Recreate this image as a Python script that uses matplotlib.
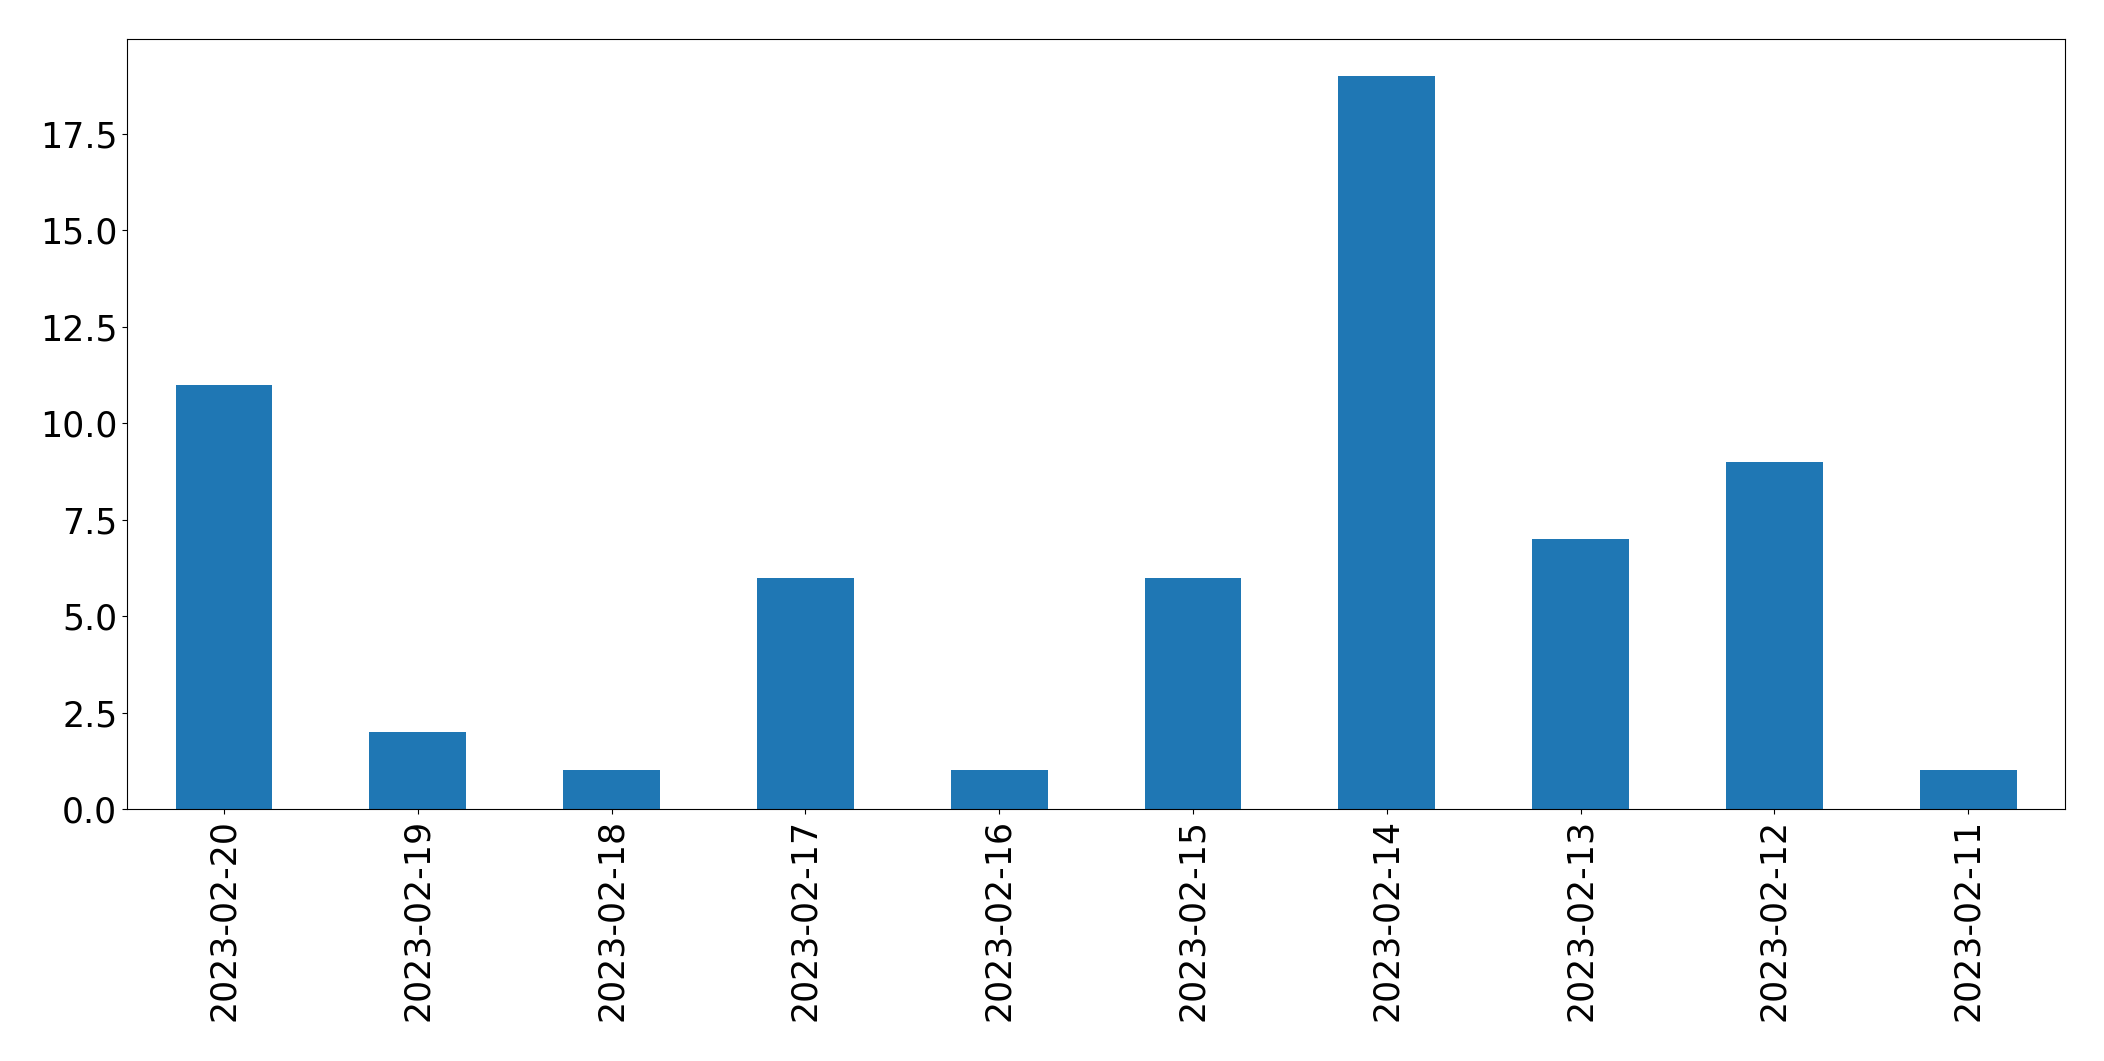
import matplotlib
matplotlib.use("Agg")
import matplotlib.pyplot as plt
import numpy as np

dates = ["2023-02-20", "2023-02-19", "2023-02-18", "2023-02-17", "2023-02-16",
         "2023-02-15", "2023-02-14", "2023-02-13", "2023-02-12", "2023-02-11"]
counts = [11, 2, 1, 6, 1, 6, 19, 7, 9, 1]

fig = plt.figure(figsize=(21.04, 10.61), dpi=100)
ax = fig.add_axes([0.0604, 0.2375, 0.9211, 0.7255])
x = np.arange(len(dates))
ax.bar(x, counts, width=0.5, color="#1f77b4")
ax.set_xlim(-0.5, len(dates) - 0.5)
ax.set_ylim(0, max(counts) * 1.05)
ax.set_xticks(x)
ax.set_xticklabels(dates, rotation=90)
ax.set_yticks(np.arange(0, 19, 2.5))
ax.tick_params(labelsize=25)
fig.savefig("out.png", dpi=100)
